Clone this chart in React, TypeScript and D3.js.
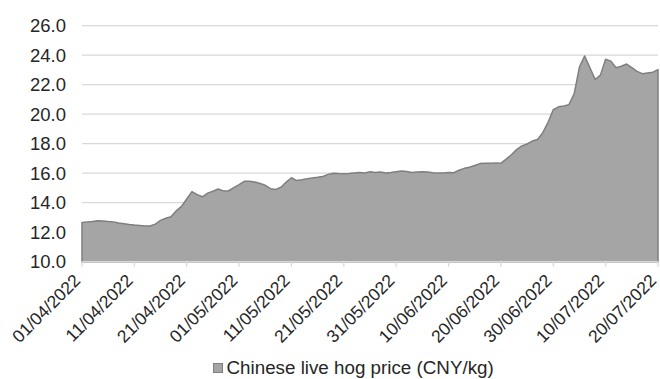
import React, { useEffect, useRef } from "react";
import * as d3 from "d3";

// daily prices, 01/04/2022 .. 20/07/2022
const startDate = "2022-04-01";
const hogPrices = [
  12.65, 12.7, 12.73, 12.78, 12.76, 12.72, 12.7, 12.62, 12.58, 12.52,
  12.48, 12.45, 12.42, 12.42, 12.55, 12.8, 12.95, 13.05, 13.45, 13.75,
  14.25, 14.75, 14.55, 14.4, 14.65, 14.78, 14.93, 14.8, 14.81, 15.02,
  15.22, 15.45, 15.45, 15.4, 15.3, 15.18, 14.95, 14.9, 15.05, 15.4,
  15.69, 15.5, 15.55, 15.63, 15.68, 15.72, 15.78, 15.92, 16.0, 15.98,
  15.97, 15.98, 16.02, 16.05, 16.02, 16.1, 16.05, 16.08, 16.02, 16.05,
  16.1, 16.15, 16.12, 16.05, 16.08, 16.1, 16.08, 16.03, 16.02, 16.02,
  16.05, 16.03, 16.2, 16.33, 16.4, 16.52, 16.65, 16.68, 16.68, 16.7,
  16.67, 16.95, 17.25, 17.6, 17.85, 17.98, 18.18, 18.28, 18.75, 19.45,
  20.3, 20.5, 20.55, 20.65, 21.4, 23.2, 23.95, 23.15, 22.35, 22.65,
  23.72, 23.6, 23.15, 23.25, 23.4, 23.15, 22.9, 22.75, 22.8, 22.85,
  23.02,
];
const xTickLabels = [
  "01/04/2022", "11/04/2022", "21/04/2022", "01/05/2022", "11/05/2022",
  "21/05/2022", "31/05/2022", "10/06/2022", "20/06/2022", "30/06/2022",
  "10/07/2022", "20/07/2022",
];
const yTicks = [10, 12, 14, 16, 18, 20, 22, 24, 26];
const seriesName = "Chinese live hog price (CNY/kg)";

const W = 660;
const H = 379;
const FONT = "'Liberation Sans', Arial, sans-serif";

export default function App() {
  const ref = useRef<SVGSVGElement>(null);

  useEffect(() => {
    const svg = d3.select(ref.current);
    svg.selectAll("*").remove();

    const parse = d3.timeParse("%d/%m/%Y");
    const start = d3.timeParse("%Y-%m-%d")(startDate) as Date;
    const data = hogPrices.map((v, i) => ({ date: d3.timeDay.offset(start, i), value: v }));
    const tickDates = xTickLabels.map((s) => parse(s) as Date);

    const x = d3.scaleTime()
      .domain([start, data[data.length - 1].date])
      .range([82, 658]);
    const y = d3.scaleLinear().domain([10, 26]).range([261.7, 25.7]);

    // gridlines
    svg.append("g")
      .selectAll("line")
      .data(yTicks.slice(1))
      .join("line")
      .attr("x1", 82)
      .attr("x2", 658)
      .attr("y1", (d) => y(d))
      .attr("y2", (d) => y(d))
      .attr("stroke", "#d9d9d9")
      .attr("stroke-width", 1.3);

    // area
    const area = d3.area<{ date: Date; value: number }>()
      .x((d) => x(d.date))
      .y0(y(10))
      .y1((d) => y(d.value));

    svg.append("path")
      .datum(data)
      .attr("d", area)
      .attr("fill", "#a5a5a5")
      .attr("stroke", "#7f7f7f")
      .attr("stroke-width", 1.5)
      .attr("stroke-linejoin", "round");

    // x axis
    const xAxis = svg.append("g");
    xAxis.append("line")
      .attr("x1", 82)
      .attr("x2", 658)
      .attr("y1", y(10))
      .attr("y2", y(10))
      .attr("stroke", "#d9d9d9")
      .attr("stroke-width", 1.3);
    xAxis.selectAll(".tick")
      .data(tickDates)
      .join("line")
      .attr("x1", (d) => x(d))
      .attr("x2", (d) => x(d))
      .attr("y1", y(10))
      .attr("y2", y(10) + 5)
      .attr("stroke", "#d9d9d9")
      .attr("stroke-width", 1.3);
    xAxis.selectAll("text")
      .data(tickDates)
      .join("text")
      .attr("transform", (d) => `translate(${x(d) - 0.5},${y(10) + 20}) rotate(-45)`)
      .attr("text-anchor", "end")
      .attr("font-family", FONT)
      .attr("font-size", 17.5)
      .attr("fill", "#262626")
      .text((d, i) => xTickLabels[i]);

    // y axis labels
    svg.append("g")
      .selectAll("text")
      .data(yTicks)
      .join("text")
      .attr("x", 66)
      .attr("y", (d) => y(d))
      .attr("dy", "0.36em")
      .attr("text-anchor", "end")
      .attr("font-family", FONT)
      .attr("font-size", 18.5)
      .attr("fill", "#262626")
      .text((d) => d.toFixed(1));

    // legend
    const legend = svg.append("g");
    legend.append("rect")
      .attr("x", 213.5)
      .attr("y", 363.5)
      .attr("width", 9)
      .attr("height", 9)
      .attr("fill", "#a5a5a5")
      .attr("stroke", "#7f7f7f")
      .attr("stroke-width", 1);
    legend.append("text")
      .attr("x", 226.5)
      .attr("y", 374)
      .attr("font-family", FONT)
      .attr("font-size", 18.8)
      .attr("fill", "#262626")
      .text(seriesName);
  }, []);

  return (
    <svg
      ref={ref}
      width={W}
      height={H}
      style={{ position: "absolute", left: 0, top: 0, background: "#fff" }}
    />
  );
}
